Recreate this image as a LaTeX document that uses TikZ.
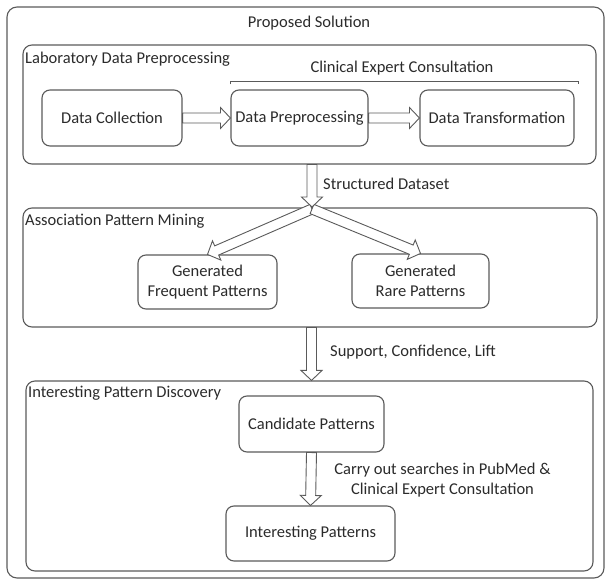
\documentclass[tikz,border=0pt]{standalone}
\usepackage{fontspec}
\setmainfont{Carlito}
\usetikzlibrary{calc}
\definecolor{linec}{HTML}{5A5A5A}
\definecolor{textc}{HTML}{2B2B2B}
\tikzset{
  lbl/.style={font=\fontsize{16.5}{20}\selectfont, text=textc, inner sep=0pt},
  outerbox/.style={draw=linec, line width=1.1pt, rounded corners=10pt, inner sep=0pt},
  bigbox/.style={draw=linec, line width=1.1pt, rounded corners=9pt, inner sep=0pt},
  stepbox/.style={draw=linec, line width=1.1pt, rounded corners=8pt, inner sep=0pt,
     align=center, font=\fontsize{16.5}{20}\selectfont, text=textc},
  barrowstyle/.style={draw=linec, line width=0.9pt, fill=white, line join=miter},
}
\newcommand{\blockarrow}[2]{%
  \path ($(#2)!10pt!(#1)$) coordinate (bah);
  \draw[barrowstyle] ($(#1)!5pt!90:(#2)$) -- ($(bah)!5pt!90:(#2)$) -- ($(bah)!10.5pt!90:(#2)$)
     -- (#2) -- ($(bah)!10.5pt!-90:(#2)$) -- ($(bah)!5pt!-90:(#2)$) -- ($(#1)!5pt!-90:(#2)$) -- cycle;}
\begin{document}
\begin{tikzpicture}[x=1pt, y=-1pt]
\useasboundingbox (0,0) rectangle (606,580);
% outer container
\node[outerbox, minimum width=597pt, minimum height=571pt] (outer) at (305.5,292.5) {};
\node[lbl] (title) at (309,23) {Proposed Solution};
% stage boxes
\node[bigbox, minimum width=573pt, minimum height=119pt] (box1) at (309.5,104.5) {};
\node[bigbox, minimum width=574pt, minimum height=119pt] (box2) at (310,267.5) {};
\node[bigbox, minimum width=567pt, minimum height=190pt] (box3) at (309.5,476) {};
\node[lbl, anchor=west] (l1) at (25,59) {Laboratory Data Preprocessing};
\node[lbl, anchor=west] (l2) at (25,221) {Association Pattern Mining};
\node[lbl, anchor=west] (l3) at (28,393) {Interesting Pattern Discovery};
% stage 1
\node[stepbox, minimum width=140pt, minimum height=56pt] (dc) at (112,118) {Data Collection};
\node[stepbox, minimum width=137pt, minimum height=56pt] (dp) at (299.5,118) {Data Preprocessing};
\node[stepbox, minimum width=154pt, minimum height=56pt] (dt) at (497,118) {Data Transformation};
\node[lbl] (cec) at (402,68) {Clinical Expert Consultation};
\draw[linec, line width=0.9pt] (230,84.5) -- (230,81) -- (578,81) -- (578,84.5);
% stage 2
\node[stepbox, minimum width=139pt, minimum height=54pt] (gfp) at (207.5,282) {Generated\\Frequent Patterns};
\node[stepbox, minimum width=137pt, minimum height=54pt] (grp) at (420.5,281) {Generated\\Rare Patterns};
% stage 3
\node[stepbox, minimum width=145pt, minimum height=56pt] (cp) at (311.5,424) {Candidate Patterns};
\node[stepbox, minimum width=169pt, minimum height=55pt] (ip) at (310.5,533.5) {Interesting Patterns};
% arrows
\blockarrow{dc.east}{dp.west}
\blockarrow{dp.east}{dt.west}
\coordinate (split) at (312,207);
\coordinate (sdA) at (box1.south -| split);
\coordinate (spA) at (box2.south -| cp.north);
\coordinate (spB) at (box3.north -| cp.north);
\coordinate (splitB) at (312,209);
\blockarrow{splitB}{gfp.north}
\blockarrow{splitB}{grp.north}
\blockarrow{sdA}{split}
\blockarrow{spA}{spB}
\blockarrow{cp.south}{ip.north}
% labels on arrows
\node[lbl, anchor=west] (sdl) at (323,184) {Structured Dataset};
\node[lbl, anchor=west] (scl) at (330,352) {Support, Confidence, Lift};
\node[lbl, align=center] (pml) at (442.5,480) {Carry out searches in PubMed \&\\Clinical Expert Consultation};
\end{tikzpicture}
\end{document}
